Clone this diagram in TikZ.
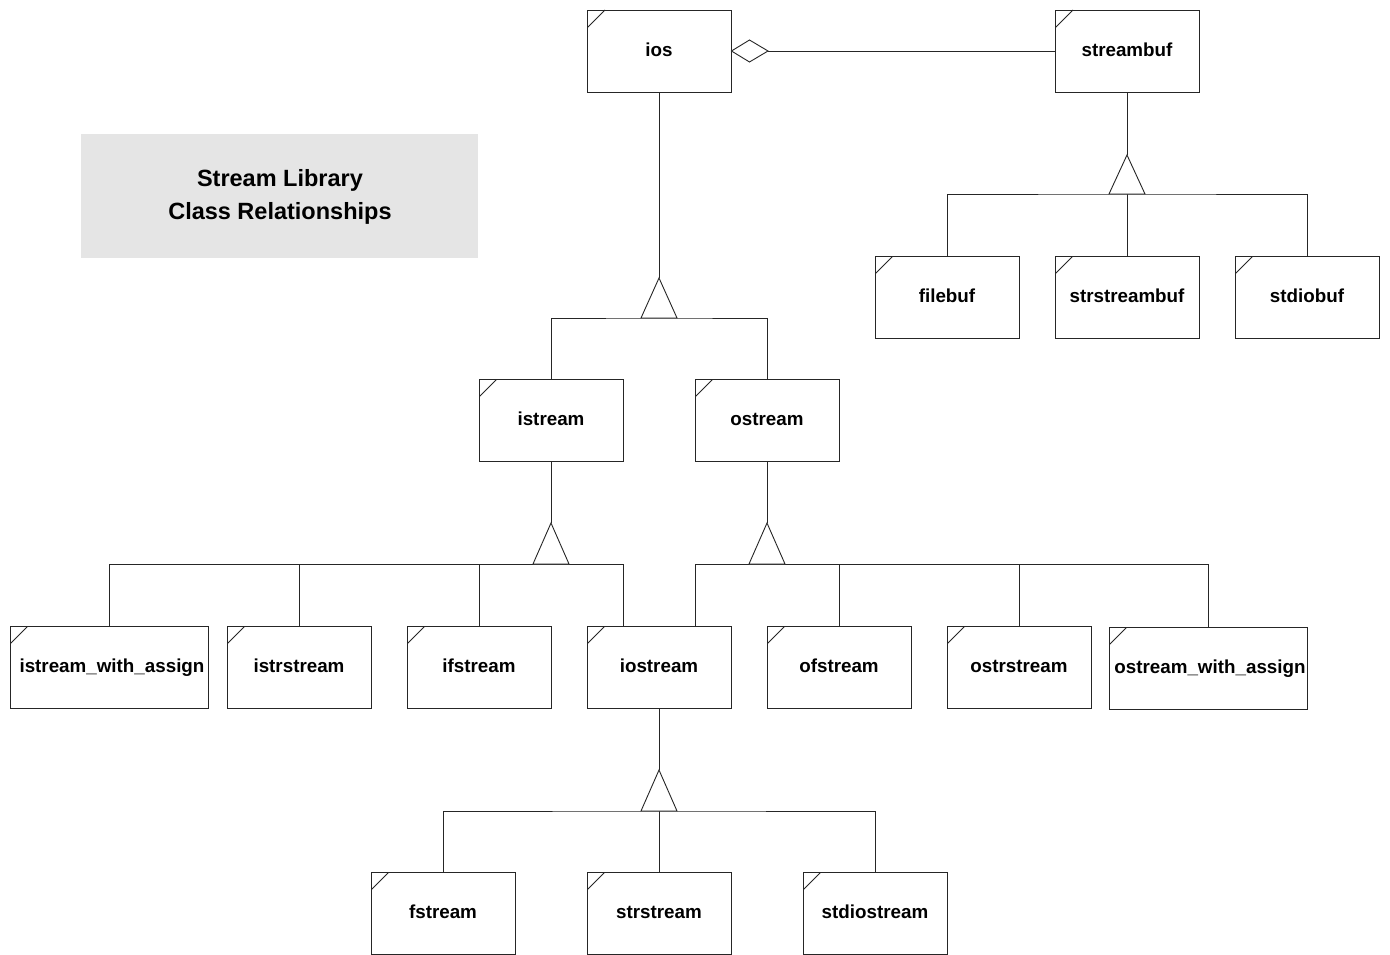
\documentclass[tikz,border=0pt]{standalone}
\usepackage{fontspec}
\setmainfont{Liberation Sans}
\begin{document}
\begin{tikzpicture}[x=1pt,y=-1pt,
  line width=0.9pt,
  cls/.style={draw=black!85, fill=white, rectangle, minimum width=144pt, minimum height=82pt, inner sep=0pt,
    text height=13.5pt, text depth=3pt,
    font=\fontsize{18.8}{20}\selectfont\bfseries,
    path picture={\draw[line width=0.8pt] ([yshift=-18pt]path picture bounding box.north west) -- ([xshift=18pt]path picture bounding box.north west);}},
  wide/.style={cls, minimum width=198pt},
  conn/.style={draw=black!85},
  inh/.style={draw=black!85, fill=white}
]
\useasboundingbox (0,0) rectangle (1390,955);
% title
\node[fill=black!10, minimum width=397pt, minimum height=124pt, inner sep=0pt, anchor=north west,
  font=\fontsize{23.5}{33}\selectfont\bfseries, align=center] (title) at (81,134) {Stream Library\\Class Relationships};

% classes
\node[cls] (ios) at (659,51) {ios};
\node[cls] (streambuf) at (1127,51) {streambuf};
\node[cls] (filebuf) at (947,297) {filebuf};
\node[cls] (strstreambuf) at (1127,297) {strstreambuf};
\node[cls] (stdiobuf) at (1307,297) {stdiobuf};
\node[cls] (istream) at (551,420) {istream};
\node[cls] (ostream) at (767,420) {ostream};
\node[wide] (iswa) at (109,667) {\hspace*{6pt}istream\_with\_assign};
\node[cls] (istrstream) at (299,667) {istrstream};
\node[cls] (ifstream) at (479,667) {ifstream};
\node[cls] (iostream) at (659,667) {iostream};
\node[cls] (ofstream) at (839,667) {ofstream};
\node[cls] (ostrstream) at (1019,667) {ostrstream};
\node[wide] (oswa) at (1208,668) {\hspace*{4pt}ostream\_with\_assign};
\node[cls] (fstream) at (443,913) {fstream};
\node[cls] (strstream) at (659,913) {strstream};
\node[cls] (stdiostream) at (875,913) {stdiostream};

% aggregation ios <>-- streambuf
\coordinate (dR) at (768,51);
\draw[conn] (dR) -- (streambuf.west);
\draw[inh] (ios.east) -- (749.5,40) -- (dR) -- (749.5,62) -- cycle;

% streambuf hierarchy
\coordinate (a1) at (1127,155);
\coordinate (b1) at (1127,194);
\draw[conn] (streambuf.south) -- (a1);
\draw[conn] (filebuf.north) |- (b1) -| (stdiobuf.north);
\draw[conn] (strstreambuf.north) -- (b1);
\draw[inh] (a1) -- ++(-18,39) -- ++(36,0) -- cycle;

% ios hierarchy
\coordinate (a2) at (659,278);
\coordinate (b2) at (659,318);
\draw[conn] (ios.south) -- (a2);
\draw[conn] (istream.north) |- (b2) -| (ostream.north);
\draw[inh] (a2) -- ++(-18,40) -- ++(36,0) -- cycle;

% istream hierarchy
\coordinate (a3) at (551,523);
\coordinate (b3) at (551,564);
\draw[conn] (istream.south) -- (a3);
\draw[conn] (iswa.north) |- (b3);
\draw[conn] (istrstream.north) |- (b3);
\draw[conn] (ifstream.north) |- (b3);
\draw[conn] ([xshift=-36pt]iostream.north) |- (b3);
\draw[inh] (a3) -- ++(-18,41) -- ++(36,0) -- cycle;

% ostream hierarchy
\coordinate (a4) at (767,523);
\coordinate (b4) at (767,564);
\draw[conn] (ostream.south) -- (a4);
\draw[conn] ([xshift=36pt]iostream.north) |- (b4);
\draw[conn] (ofstream.north) |- (b4);
\draw[conn] (ostrstream.north) |- (b4);
\draw[conn] (oswa.north) |- (b4);
\draw[inh] (a4) -- ++(-18,41) -- ++(36,0) -- cycle;

% iostream hierarchy
\coordinate (a5) at (659,770);
\coordinate (b5) at (659,811);
\draw[conn] (iostream.south) -- (a5);
\draw[conn] (fstream.north) |- (b5) -| (stdiostream.north);
\draw[conn] (strstream.north) -- (b5);
\draw[inh] (a5) -- ++(-18,41) -- ++(36,0) -- cycle;
\end{tikzpicture}
\end{document}
